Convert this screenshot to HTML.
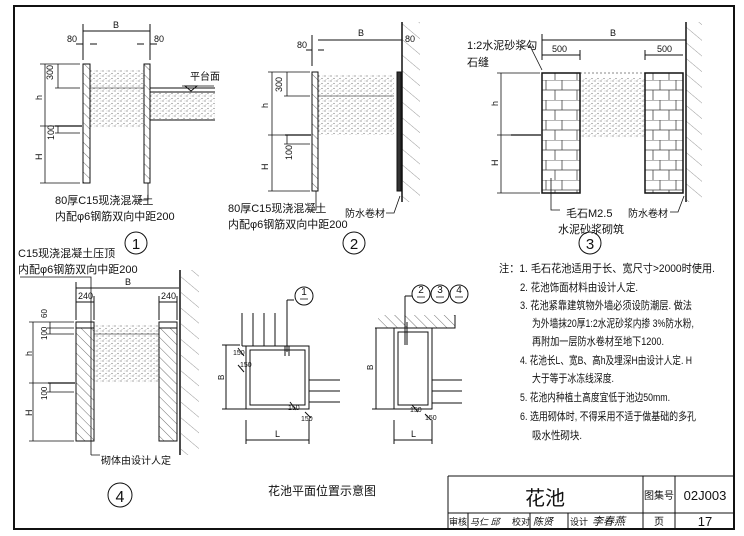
<!DOCTYPE html>
<html><head><meta charset="utf-8"><style>
html,body{margin:0;padding:0;background:#fff;}
svg{display:block;}
text{font-family:"Liberation Sans","Noto Sans CJK SC",sans-serif;fill:#111;}
</style></head><body>
<svg width="744" height="536" viewBox="0 0 744 536" xmlns="http://www.w3.org/2000/svg">
<defs>
<pattern id="hat" width="7" height="7" patternUnits="userSpaceOnUse" patternTransform="rotate(-45)"><line x1="0" y1="0" x2="0" y2="7" stroke="#333" stroke-width="0.7"/></pattern>
<pattern id="hatb" width="12" height="12" patternUnits="userSpaceOnUse" patternTransform="rotate(-50)"><line x1="0" y1="0" x2="0" y2="12" stroke="#555" stroke-width="0.6"/></pattern>
<pattern id="soil" width="6" height="5" patternUnits="userSpaceOnUse"><circle cx="1" cy="1" r="0.6" fill="#666"/><circle cx="4" cy="3.5" r="0.6" fill="#777"/><circle cx="5" cy="1" r="0.4" fill="#888"/><circle cx="2" cy="4.5" r="0.4" fill="#888"/></pattern>
<pattern id="brick" width="38" height="20" patternUnits="userSpaceOnUse"><path d="M0 0H38M0 10H38M14 0V10M30 0V10M7 10V20M23 10V20" stroke="#444" stroke-width="0.8" fill="none"/></pattern>
</defs>
<g stroke="#111" fill="none">
<rect x="14" y="6" width="720" height="523" stroke-width="2"/>
<path d="M448 476V529M448 476H734M448 513H734M643 476V529M675 476V529M468 513V529M530 513V529M568 513V529" stroke-width="1"/>
</g>
<text x="545" y="505" font-size="20" text-anchor="middle">花池</text>
<text x="659" y="499" font-size="10" text-anchor="middle">图集号</text>
<text x="705" y="500" font-size="13" text-anchor="middle">02J003</text>
<text x="659" y="525" font-size="10" text-anchor="middle">页</text>
<text x="705" y="526" font-size="13" text-anchor="middle">17</text>
<text x="449" y="525" font-size="9">审核</text>
<text x="470" y="525" font-size="9" font-style="italic">马仁 邱</text>
<text x="512" y="525" font-size="9">校对</text>
<text x="533" y="525" font-size="10" font-style="italic">陈贤</text>
<text x="570" y="525" font-size="9">设计</text>
<text x="592" y="525" font-size="11" font-style="italic">李春燕</text>

<!-- Diagram 1 -->
<rect x="90" y="70" width="54" height="58" fill="url(#soil)"/>
<rect x="150" y="92" width="65" height="28" fill="url(#soil)"/>
<g stroke="#111" stroke-width="1" fill="none">
<rect x="83" y="64" width="7" height="119" fill="url(#hat)"/>
<rect x="144" y="64" width="6" height="119" fill="url(#hat)"/>
<path d="M150 88H215M150 92H215M150 120H215M150 88V120" />
<path d="M90 88H144" stroke-width="0.6"/>
<path d="M55 126H82" stroke-width="1.2"/>
<path d="M83 31H150M83 24V60M150 24V60M83 44H76M90 44H97M144 44H137M150 44H157"/>
<path d="M45 64V183M40 64H80M40 126H80M40 183H80M58 64V88M55 88H80M58 126V133M55 133H80" stroke-width="0.8"/>
<path d="M148 183V200H138" stroke-width="0.8"/>
<path d="M185 86L191 91L197 86Z" />
<path d="M182 86H214" stroke-width="0.8"/>
<circle cx="136" cy="243" r="11"/>
</g>
<text x="113" y="28" font-size="9">B</text>
<text x="67" y="42" font-size="9">80</text>
<text x="154" y="42" font-size="9">80</text>
<text x="190" y="80" font-size="10">平台面</text>
<text x="53" y="80" font-size="9" transform="rotate(-90 53 80)">300</text>
<text x="42" y="100" font-size="9" transform="rotate(-90 42 100)">h</text>
<text x="54" y="140" font-size="9" transform="rotate(-90 54 140)">100</text>
<text x="42" y="160" font-size="9" transform="rotate(-90 42 160)">H</text>
<text x="55" y="204" font-size="11">80厚C15现浇混凝土</text>
<text x="55" y="220" font-size="11">内配φ6钢筋双向中距200</text>
<text x="136" y="249" font-size="15" text-anchor="middle">1</text>

<!-- Diagram 2 -->
<rect x="318" y="75" width="76" height="60" fill="url(#soil)"/>
<rect x="402" y="22" width="18" height="180" fill="url(#hatb)"/>
<g stroke="#111" stroke-width="1" fill="none">
<rect x="312" y="72" width="6" height="119" fill="url(#hat)"/>
<path d="M402 22V202" stroke-width="1.5"/>
<rect x="397" y="72" width="4" height="119" fill="#333"/>
<path d="M318 96H394" stroke-width="0.6"/>
<path d="M285 135H311" stroke-width="1.2"/>
<path d="M318 40H402M312 35V66M312 50H306M318 50H324"/>
<path d="M272 72V191M268 72H310M268 135H310M268 191H310M287 72V96M284 96H310M287 135V144M284 144H310" stroke-width="0.8"/>
<path d="M316 191V210H310M400 196L394 213H386" stroke-width="0.8"/>
<circle cx="354" cy="243" r="11"/>
</g>
<text x="358" y="36" font-size="9">B</text>
<text x="297" y="48" font-size="9">80</text>
<text x="405" y="42" font-size="9">80</text>
<text x="282" y="92" font-size="9" transform="rotate(-90 282 92)">300</text>
<text x="268" y="108" font-size="9" transform="rotate(-90 268 108)">h</text>
<text x="292" y="160" font-size="9" transform="rotate(-90 292 160)">100</text>
<text x="268" y="170" font-size="9" transform="rotate(-90 268 170)">H</text>
<text x="228" y="212" font-size="11">80厚C15现浇混凝土</text>
<text x="228" y="228" font-size="11">内配φ6钢筋双向中距200</text>
<text x="345" y="217" font-size="10">防水卷材</text>
<text x="354" y="249" font-size="15" text-anchor="middle">2</text>

<!-- Diagram 3 -->
<rect x="580" y="78" width="65" height="60" fill="url(#soil)"/>
<rect x="686" y="22" width="16" height="180" fill="url(#hatb)"/>
<g stroke="#111" stroke-width="1" fill="none">
<rect x="542" y="73" width="38" height="120" fill="url(#brick)" stroke-width="1.5"/>
<rect x="645" y="73" width="38" height="120" fill="url(#brick)" stroke-width="1.5"/>
<path d="M686 22V202" stroke-width="1.5"/>
<path d="M580 73H645" stroke-width="0.5" stroke-dasharray="2 2"/>
<path d="M511 135H541" stroke-width="1.2"/>
<path d="M542 40H686M542 34V60M542 55H580M580 50V60M645 55H683M645 50V60"/>
<path d="M501 73V193M497 73H540M497 135H540M497 193H540" stroke-width="0.8"/>
<path d="M520 46H530L542 70M551 178V210H560M684 196L678 212H670" stroke-width="0.8"/>
<circle cx="590" cy="243" r="11"/>
</g>
<text x="610" y="36" font-size="9">B</text>
<text x="552" y="52" font-size="9">500</text>
<text x="657" y="52" font-size="9">500</text>
<text x="498" y="106" font-size="9" transform="rotate(-90 498 106)">h</text>
<text x="498" y="166" font-size="9" transform="rotate(-90 498 166)">H</text>
<text x="467" y="49" font-size="11">1:2水泥砂浆勾</text>
<text x="467" y="66" font-size="11">石缝</text>
<text x="566" y="217" font-size="11">毛石M2.5</text>
<text x="558" y="233" font-size="11">水泥砂浆砌筑</text>
<text x="628" y="217" font-size="10">防水卷材</text>
<text x="590" y="249" font-size="15" text-anchor="middle">3</text>

<!-- Diagram 4 -->
<rect x="94" y="325" width="65" height="58" fill="url(#soil)"/>
<rect x="181" y="270" width="18" height="185" fill="url(#hatb)"/>
<g stroke="#111" stroke-width="1" fill="none">
<rect x="76" y="322" width="18" height="119" fill="url(#hat)"/>
<rect x="159" y="322" width="18" height="119" fill="url(#hat)"/>
<rect x="76" y="322" width="18" height="6" fill="#fff"/>
<rect x="159" y="322" width="18" height="6" fill="#fff"/>
<path d="M180 270V455" stroke-width="1.5"/>
<path d="M94 334H159" stroke-width="0.6"/>
<path d="M48 383H75" stroke-width="1.2"/>
<path d="M20 277H91V455M91 455H100"  stroke-width="0.8"/>
<path d="M76 288H179M76 282V320M76 302H94M94 296V320M159 302H177M159 296V320M177 296V320"/>
<path d="M33 322V441M29 322H74M29 383H74M29 441H74M50 322V334M47 328H74M47 334H74M50 383V392M47 392H74" stroke-width="0.8"/>
<circle cx="120" cy="495" r="12"/>
</g>
<text x="125" y="285" font-size="9">B</text>
<text x="78" y="299" font-size="9">240</text>
<text x="161" y="299" font-size="9">240</text>
<text x="47" y="318" font-size="8" transform="rotate(-90 47 318)">60</text>
<text x="47" y="340" font-size="8" transform="rotate(-90 47 340)">100</text>
<text x="32" y="356" font-size="9" transform="rotate(-90 32 356)">h</text>
<text x="47" y="400" font-size="8" transform="rotate(-90 47 400)">100</text>
<text x="32" y="416" font-size="9" transform="rotate(-90 32 416)">H</text>
<text x="18" y="257" font-size="11">C15现浇混凝土压顶</text>
<text x="18" y="273" font-size="11">内配φ6钢筋双向中距200</text>
<text x="101" y="464" font-size="10">砌体由设计人定</text>
<text x="120" y="502" font-size="16" text-anchor="middle">4</text>

<!-- Plans -->
<rect x="378" y="315" width="77" height="13" fill="url(#hat)"/>
<g stroke="#111" stroke-width="1" fill="none">
<rect x="246" y="346" width="63" height="63"/>
<rect x="250" y="350" width="55" height="55"/>
<path d="M242 313V346M253 313V346M264 313V346M275 313V346M242 346H246"/>
<path d="M309 380H340M309 391H340M309 402H340"/>
<path d="M287 300V352M285 346V356M289 346V356M287 300H294"/>
<circle cx="304" cy="296" r="9"/>
<path d="M226 345V409M222 345H240M222 409H246M246 420V444M309 420V444M246 440H309M238 348L244 356M238 365L244 372M290 402L296 410M305 412L311 418"/>
<rect x="394" y="328" width="38" height="81"/>
<rect x="398" y="332" width="30" height="73"/>
<path d="M378 328H455V315M432 380H462M432 391H462M432 403H462"/>
<path d="M405 322V345M407 322V345M405 296V322M405 296H412"/>
<circle cx="421" cy="294" r="9"/><circle cx="440" cy="294" r="9"/><circle cx="459" cy="294" r="9"/>
<path d="M378 328H375M376 328V409M372 409H394M394 420V444M432 420V444M394 440H432M412 405L418 412M425 414L431 420"/>
</g>
<text x="304" y="295" font-size="10" text-anchor="middle">1</text>
<text x="421" y="293" font-size="10" text-anchor="middle">2</text>
<text x="440" y="293" font-size="10" text-anchor="middle">3</text>
<text x="459" y="293" font-size="10" text-anchor="middle">4</text>
<g stroke="#111" stroke-width="0.8"><path d="M300 299H308M417 297H425M436 297H444M455 297H463"/></g>
<text x="224" y="380" font-size="8" transform="rotate(-90 224 380)">B</text>
<text x="373" y="370" font-size="8" transform="rotate(-90 373 370)">B</text>
<text x="275" y="437" font-size="9">L</text>
<text x="411" y="437" font-size="9">L</text>
<text x="233" y="355" font-size="7">150</text>
<text x="240" y="367" font-size="7">150</text>
<text x="288" y="410" font-size="7">150</text>
<text x="301" y="421" font-size="7">150</text>
<text x="410" y="412" font-size="7">150</text>
<text x="425" y="420" font-size="7">150</text>
<text x="268" y="495" font-size="12">花池平面位置示意图</text>

<!-- Notes -->
<g font-size="11">
<text x="499" y="272" textLength="216" lengthAdjust="spacingAndGlyphs">注：1. 毛石花池适用于长、宽尺寸&gt;2000时使用.</text>
<text x="520" y="291" textLength="118" lengthAdjust="spacingAndGlyphs">2. 花池饰面材料由设计人定.</text>
<text x="520" y="309" textLength="172" lengthAdjust="spacingAndGlyphs">3. 花池紧靠建筑物外墙必须设防潮层. 做法</text>
<text x="532" y="327" textLength="162" lengthAdjust="spacingAndGlyphs">为外墙抹20厚1:2水泥砂浆内掺 3%防水粉,</text>
<text x="532" y="345" textLength="132" lengthAdjust="spacingAndGlyphs">再附加一层防水卷材至地下1200.</text>
<text x="520" y="364" textLength="172" lengthAdjust="spacingAndGlyphs">4. 花池长L、宽B、高h及埋深H由设计人定. H</text>
<text x="532" y="382" textLength="82" lengthAdjust="spacingAndGlyphs">大于等于冰冻线深度.</text>
<text x="520" y="401" textLength="150" lengthAdjust="spacingAndGlyphs">5. 花池内种植土高度宜低于池边50mm.</text>
<text x="520" y="420" textLength="176" lengthAdjust="spacingAndGlyphs">6. 选用砌体时, 不得采用不适于做基础的多孔</text>
<text x="532" y="439" textLength="50" lengthAdjust="spacingAndGlyphs">吸水性砌块.</text>
</g>
</svg>
</body></html>
